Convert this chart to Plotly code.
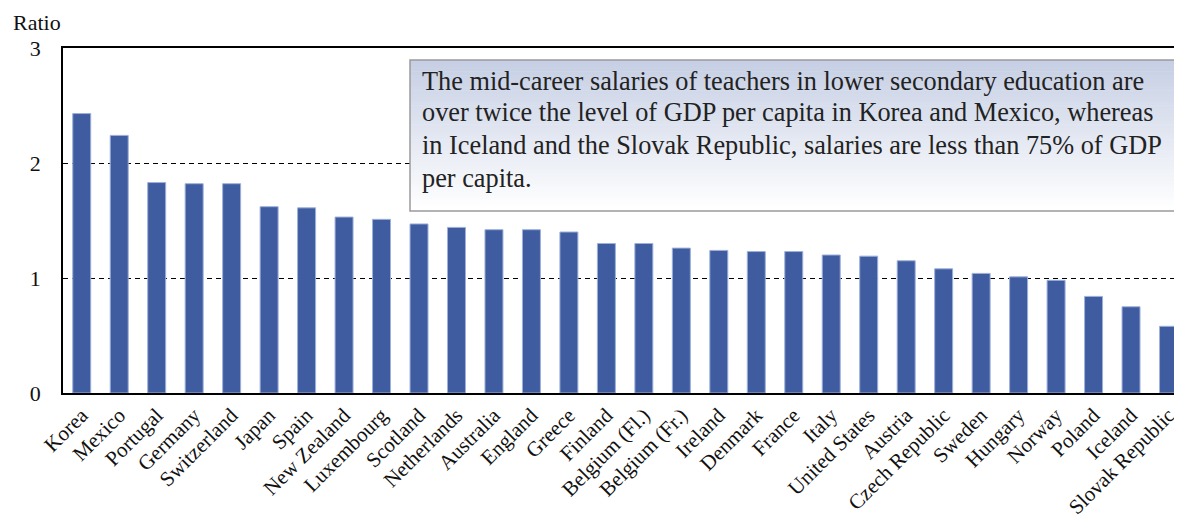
import plotly.graph_objects as go

countries = ["Korea", "Mexico", "Portugal", "Germany", "Switzerland", "Japan", "Spain",
             "New Zealand", "Luxembourg", "Scotland", "Netherlands", "Australia", "England",
             "Greece", "Finland", "Belgium (Fl.)", "Belgium (Fr.)", "Ireland", "Denmark",
             "France", "Italy", "United States", "Austria", "Czech Republic", "Sweden",
             "Hungary", "Norway", "Poland", "Iceland", "Slovak Republic"]
ratio = [2.43, 2.24, 1.83, 1.82, 1.82, 1.62, 1.61, 1.53, 1.51, 1.47, 1.44, 1.42, 1.42,
         1.40, 1.30, 1.30, 1.26, 1.24, 1.23, 1.23, 1.20, 1.19, 1.15, 1.08, 1.04, 1.01,
         0.98, 0.84, 0.75, 0.58]
y_ticks = [0, 1, 2, 3]

note_lines = [
    "The mid-career salaries of teachers in lower secondary education are",
    "over twice the level of GDP per capita in Korea and Mexico, whereas",
    "in Iceland and the Slovak Republic, salaries are less than 75% of GDP",
    "per capita.",
]

FONT = "Liberation Serif"
OFF = 8  # default page body margin
W, H = 1182 - OFF, 523 - OFF
L, R, T = 63 - OFF, 0, 48 - OFF
ph = 345
B = H - T - ph
pw = W - L - R

def px_x(x):  # page pixel -> paper
    return (x - OFF - L) / pw

def px_y(y):
    return (OFF + T + ph - y) / ph

fig = go.Figure(go.Bar(
    x=countries, y=ratio,
    marker=dict(color="#405CA0", line=dict(color="#9DB0DA", width=1)),
    width=0.48,
))

# gradient box behind the note
x0, x1 = px_x(410), px_x(1175)
ytop, ybot = 60, 211
n = 40
shapes = []
top_rgb = (198, 207, 228)
for i in range(n):
    f = i / (n - 1)
    c = tuple(int(round(top_rgb[k] + (255 - top_rgb[k]) * f)) for k in range(3))
    ya = ytop + (ybot - ytop) * i / n
    yb = ytop + (ybot - ytop) * (i + 1) / n
    shapes.append(dict(type="rect", xref="paper", yref="paper", x0=x0, x1=x1,
                       y0=px_y(yb + 0.5), y1=px_y(ya), layer="above",
                       fillcolor="rgb(%d,%d,%d)" % c, line=dict(width=0)))
shapes.append(dict(type="rect", xref="paper", yref="paper", x0=x0, x1=x1,
                   y0=px_y(ybot), y1=px_y(ytop), layer="above",
                   fillcolor="rgba(0,0,0,0)", line=dict(color="#9A9A9A", width=1.5)))

annotations = []
line_centers = [81, 113, 145, 178]
for txt, yc in zip(note_lines, line_centers):
    annotations.append(dict(text=txt, xref="paper", yref="paper", x=px_x(420), y=px_y(yc),
                            xanchor="left", yanchor="middle", align="left", showarrow=False,
                            font=dict(family=FONT, size=26.3, color="#222222")))
annotations.append(dict(text="Ratio", xref="paper", yref="paper", x=px_x(11), y=px_y(22),
                        xanchor="left", yanchor="middle", showarrow=False,
                        font=dict(family=FONT, size=22, color="#111111")))

fig.update_layout(
    width=W, height=H,
    margin=dict(l=L, r=R, t=T, b=B, pad=0, autoexpand=False),
    plot_bgcolor="white", paper_bgcolor="white",
    showlegend=False,
    font=dict(family=FONT, size=21, color="#111111"),
    shapes=shapes,
    annotations=annotations,
)
fig.update_xaxes(
    range=[-0.5, 29.36], showline=True, linecolor="black", linewidth=1.5, mirror=True,
    tickangle=-45, ticks="", showgrid=False, automargin=False,
    tickfont=dict(family=FONT, size=21, color="#111111"),
)
fig.update_yaxes(
    range=[0, 3], tickvals=y_ticks, showline=True, linecolor="black", linewidth=1.5,
    showgrid=True, gridcolor="black", gridwidth=1, griddash="5px,4px",
    ticks="", ticklabelstandoff=16, zeroline=False, automargin=False,
    tickfont=dict(family=FONT, size=22, color="#111111"),
)

fig.write_html("out.html")
